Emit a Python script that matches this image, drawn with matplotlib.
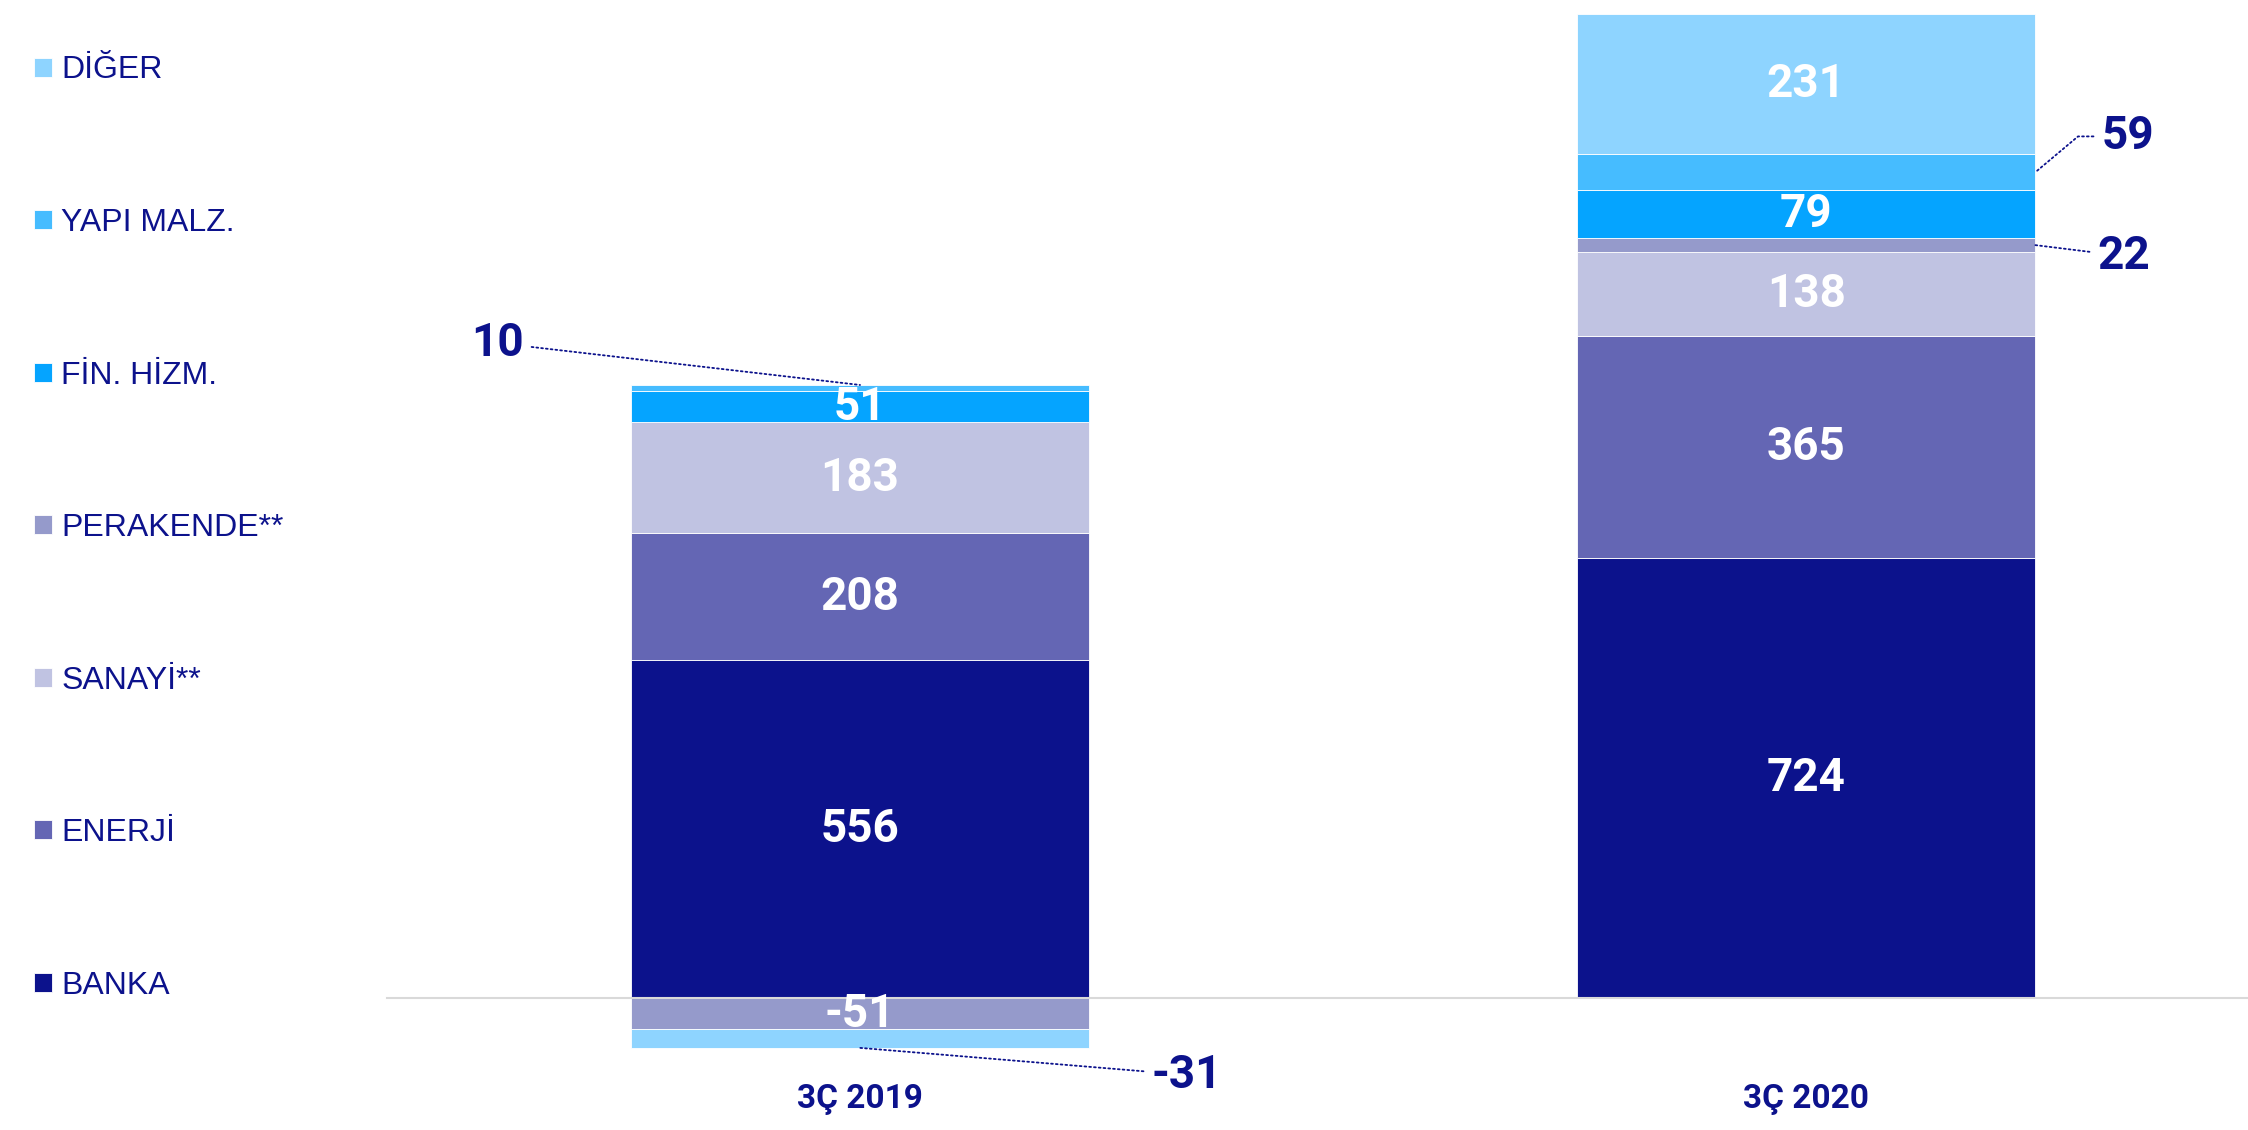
import matplotlib
matplotlib.use("Agg")
import matplotlib.pyplot as plt
import numpy as np

categories = ["3Ç 2019", "3Ç 2020"]
series = ["BANKA", "ENERJİ", "SANAYİ**", "PERAKENDE**", "FİN. HİZM.", "YAPI MALZ.", "DİĞER"]
banka = [556, 724]
enerji = [208, 365]
sanayi = [183, 138]
perakende = [-51, 22]
fin_hizm = [51, 79]
yapi_malz = [10, 59]
diger = [-31, 231]

colors = ["#0c128c", "#6466b4", "#c0c3e2", "#959acb", "#05a4ff", "#46bcff", "#8ed4ff"]
NAVY = "#0c128c"

# callouts for segments too thin to hold their label: (series, category) -> (anchor, dx, dy, style), pixels
callouts = {
    ("YAPI MALZ.", 0): ("top", -363, 42, None),
    ("DİĞER", 0): ("bottom", 327, -27, None),
    ("YAPI MALZ.", 1): ("right", 93, 36, "angle,angleA=180,angleB=40,rad=0"),
    ("PERAKENDE**", 1): ("right", 89, -11, None),
}

values = np.array([banka, enerji, sanayi, perakende, fin_hizm, yapi_malz, diger], dtype=float)
x = np.arange(len(categories))
width = 0.484

fig = plt.figure(figsize=(22.48, 11.30), dpi=100)
ax = fig.add_axes([0, 55 / 1130, 1, 1075 / 1130])
ax.set_xlim(-0.909, 1.467)
ax.set_ylim(-126.6, 1641)

pos_base = np.zeros(len(categories))
neg_base = np.zeros(len(categories))
for name, vals, col in zip(series, values, colors):
    bottom = np.where(vals >= 0, pos_base, neg_base)
    ax.bar(x, vals, width, bottom=bottom, color=col, edgecolor="white", linewidth=0.6,
           label=name, zorder=2)
    for i, v in enumerate(vals):
        lo, hi = bottom[i], bottom[i] + v
        key = (name, i)
        if key in callouts:
            where, dx, dy, cs = callouts[key]
            if where == "top":
                pt = (x[i], max(lo, hi))
            elif where == "bottom":
                pt = (x[i], min(lo, hi))
            else:
                pt = (x[i] + width / 2, (lo + hi) / 2)
            ax.annotate(f"{v:.0f}", xy=pt, xytext=(dx, dy), textcoords="offset pixels",
                        ha="center", va="center", fontsize=33, fontweight="bold",
                        family="Roboto", color=NAVY,
                        arrowprops=dict(arrowstyle="-", color=NAVY, linestyle=":", lw=1.3,
                                        shrinkA=4, shrinkB=0,
                                        connectionstyle=cs or "arc3"))
        else:
            ax.text(x[i], (lo + hi) / 2, f"{v:.0f}", ha="center", va="center",
                    fontsize=33, fontweight="bold", family="Roboto", color="white", zorder=4)
    pos_base = pos_base + np.where(vals >= 0, vals, 0)
    neg_base = neg_base + np.where(vals < 0, vals, 0)

ax.axhline(0, xmin=387 / 2248, xmax=1, color="#d9d9d9", lw=1.5, zorder=3)

ax.set_xticks(x)
ax.set_xticklabels(categories, fontsize=24, fontweight="bold", family="Roboto", color=NAVY)
ax.tick_params(axis="x", length=0, pad=6)
ax.set_yticks([])
for s in ax.spines.values():
    s.set_visible(False)

handles, labels = ax.get_legend_handles_labels()
fig.legend(handles[::-1], labels[::-1], loc="upper left", bbox_to_anchor=(34 / 2248, 1 - 55.5 / 1130),
           frameon=False, borderpad=0, borderaxespad=0, labelspacing=3.835,
           handlelength=0.55, handleheight=0.55, handletextpad=0.3,
           prop=dict(family="Liberation Sans", size=23), labelcolor=NAVY)

fig.savefig("out.png", dpi=100)
